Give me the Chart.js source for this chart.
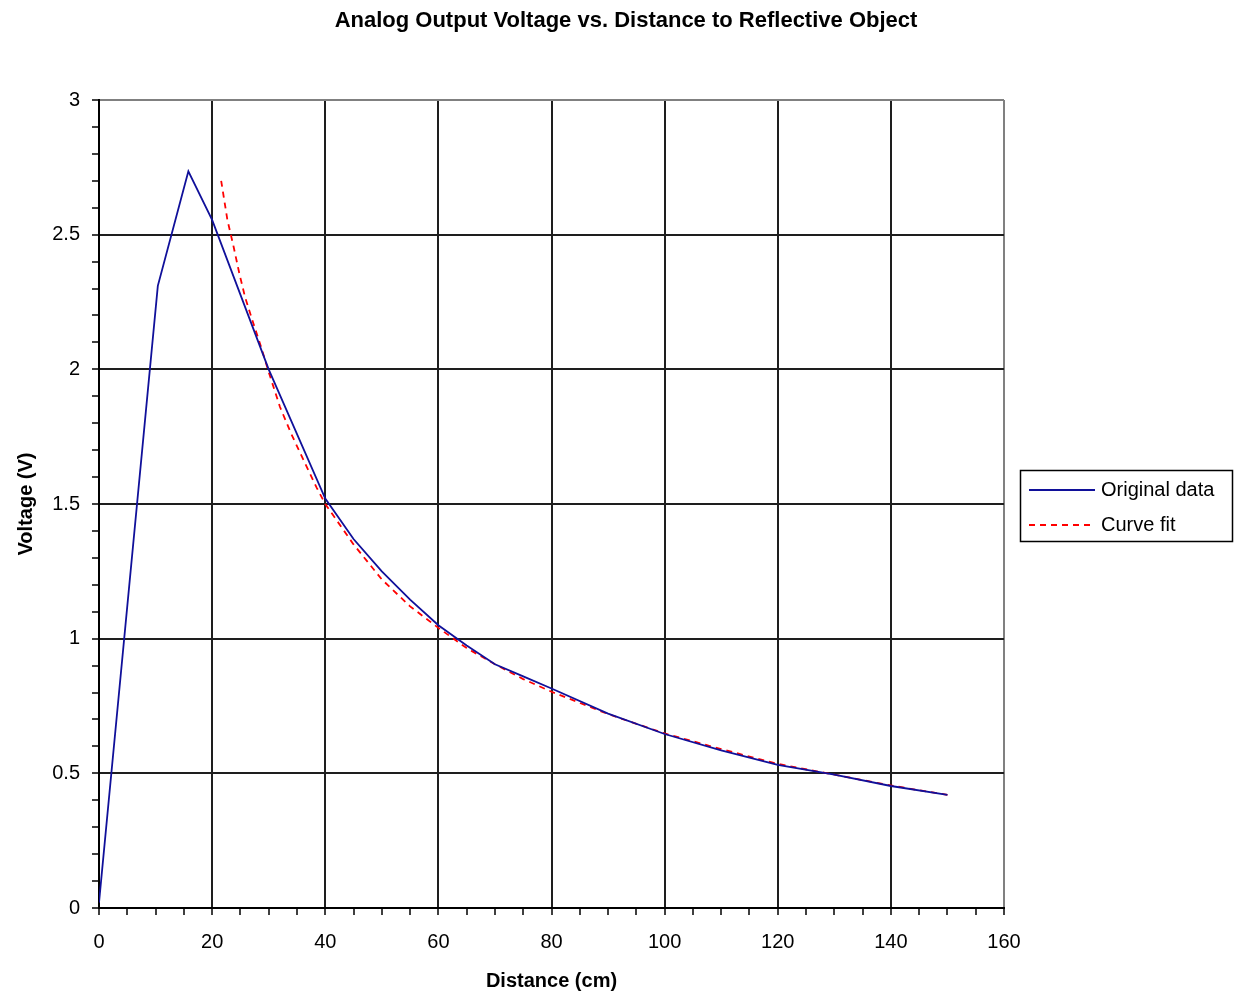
<!DOCTYPE html>
<html>
<head>
<meta charset="utf-8">
<script src="https://cdn.jsdelivr.net/npm/chart.js@4"></script>
<style>
  body { margin: 0; background: #fff; }
</style>
</head>
<body>
<canvas id="line-chart" width="1239" height="994"></canvas>
<script>
// distance (cm) / voltage (V)
let origDist = [0, 10.4, 15.8, 20, 30, 40, 45, 50, 55, 60, 65, 70, 75, 80, 90, 100, 110, 120, 130, 140, 150];
let origVolt = [0.02, 2.31, 2.735, 2.555, 2.0, 1.52, 1.37, 1.25, 1.145, 1.05, 0.975, 0.905, 0.86, 0.815, 0.722, 0.646, 0.585, 0.531, 0.495, 0.453, 0.42];

let fitDist = [21.6, 22.7, 23.8, 24.8, 25.8, 27.3, 28.7, 30, 32, 34, 36, 38.5, 40, 45, 50, 55, 60, 65, 70, 75, 80, 90, 100, 110, 120, 130, 140, 150];
let fitVolt = [2.70, 2.555, 2.455, 2.357, 2.27, 2.17, 2.08, 1.99, 1.86, 1.76, 1.67, 1.56, 1.50, 1.35, 1.22, 1.12, 1.04, 0.965, 0.905, 0.85, 0.803, 0.72, 0.648, 0.59, 0.535, 0.495, 0.455, 0.42];

let xTicks = [0, 20, 40, 60, 80, 100, 120, 140, 160];
let yTicks = ["0", "0.5", "1", "1.5", "2", "2.5", "3"];

const FONT = '"Liberation Sans", Arial, sans-serif';

function toPoints(xs, ys) {
    let pts = [];
    for (let i = 0; i < xs.length; i++) {
        pts.push({ x: xs[i], y: ys[i] });
    }
    return pts;
}

function isMajorX(v) {
    return xTicks.indexOf(Math.round(v)) >= 0 && Math.abs(v - Math.round(v)) < 1e-6;
}
function isMajorY(v) {
    return Math.abs(v * 2 - Math.round(v * 2)) < 1e-6;
}

// title + boxed legend, drawn on the canvas like the original
const decorations = {
    id: 'decorations',
    afterDraw(chart) {
        const ctx = chart.ctx;
        ctx.save();
        ctx.fillStyle = '#000';
        ctx.font = 'bold 22px ' + FONT;
        ctx.textAlign = 'center';
        ctx.textBaseline = 'middle';
        ctx.fillText('Analog Output Voltage vs. Distance to Reflective Object', 626, 21);

        ctx.strokeStyle = '#000';
        ctx.lineWidth = 1.5;
        ctx.strokeRect(1020.5, 470.5, 212, 71);

        ctx.lineWidth = 1.8;
        ctx.strokeStyle = '#10109a';
        ctx.beginPath();
        ctx.moveTo(1029, 490);
        ctx.lineTo(1095, 490);
        ctx.stroke();

        ctx.strokeStyle = '#ff0000';
        ctx.setLineDash([6, 5]);
        ctx.beginPath();
        ctx.moveTo(1029, 525);
        ctx.lineTo(1095, 525);
        ctx.stroke();
        ctx.setLineDash([]);

        ctx.font = '20px ' + FONT;
        ctx.textAlign = 'left';
        ctx.fillText('Original data', 1101, 490);
        ctx.fillText('Curve fit', 1101, 525);
        ctx.restore();
    }
};

new Chart(document.getElementById("line-chart"), {
    type: 'scatter',
    data: {
        datasets: [{
            label: "Original data",
            data: toPoints(origDist, origVolt),
            showLine: true,
            borderColor: "#10109a",
            borderWidth: 1.8,
            pointRadius: 0,
            fill: false
        }, {
            label: "Curve fit",
            data: toPoints(fitDist, fitVolt),
            showLine: true,
            borderColor: "#ff0000",
            borderWidth: 1.8,
            borderDash: [6, 5],
            pointRadius: 0,
            fill: false
        }]
    },
    options: {
        responsive: false,
        animation: false,
        layout: { padding: { top: 100, right: 235, left: 0, bottom: 0 } },
        plugins: {
            legend: { display: false },
            title: { display: false },
            tooltip: { enabled: false }
        },
        scales: {
            x: {
                type: 'linear',
                min: 0,
                max: 160,
                afterFit: (scale) => { scale.height = 86; },
                border: { color: '#000', width: 2 },
                grid: {
                    color: (c) => {
                        let v = c.tick.value;
                        if (v === 160) return '#808080';
                        return isMajorX(v) && v !== 0 ? '#1e1e1e' : 'rgba(0,0,0,0)';
                    },
                    lineWidth: 2,
                    tickColor: '#000',
                    tickLength: 7,
                    tickWidth: 1.5
                },
                ticks: {
                    stepSize: 5,
                    autoSkip: false,
                    maxRotation: 0,
                    padding: 15,
                    color: '#000',
                    font: { size: 20, family: FONT },
                    callback: (v) => isMajorX(v) ? String(xTicks[xTicks.indexOf(Math.round(v))]) : ''
                },
                title: {
                    display: true,
                    text: 'Distance (cm)',
                    color: '#000',
                    font: { size: 20, weight: 'bold', family: FONT },
                    padding: { top: 0, bottom: 1 }
                }
            },
            y: {
                min: 0,
                max: 3,
                afterFit: (scale) => { scale.width = 99; },
                border: { color: '#000', width: 2 },
                grid: {
                    color: (c) => {
                        let v = c.tick.value;
                        if (Math.abs(v - 3) < 1e-6) return '#808080';
                        return isMajorY(v) && v > 1e-6 ? '#1e1e1e' : 'rgba(0,0,0,0)';
                    },
                    lineWidth: 2,
                    tickColor: '#000',
                    tickLength: 7,
                    tickWidth: 1.5
                },
                ticks: {
                    stepSize: 0.1,
                    autoSkip: false,
                    padding: 12,
                    color: '#000',
                    font: { size: 20, family: FONT },
                    callback: (v) => isMajorY(v) ? yTicks[Math.round(v * 2)] : ''
                },
                title: {
                    display: true,
                    text: 'Voltage (V)',
                    color: '#000',
                    font: { size: 20, weight: 'bold', family: FONT },
                    padding: { top: 14, bottom: 0 }
                }
            }
        }
    },
    plugins: [decorations]
});
</script>
</body>
</html>
